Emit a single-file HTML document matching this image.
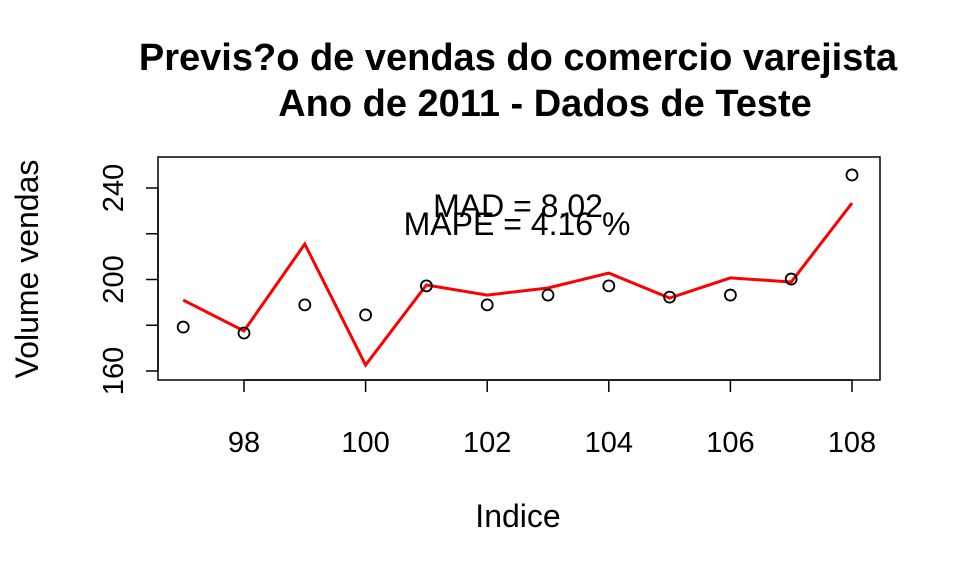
<!DOCTYPE html>
<html><head><meta charset="utf-8"><style>
body{margin:0;background:#fff}
svg{display:block;font-family:"Liberation Sans",Arial,sans-serif}
</style></head><body>
<svg id="c" width="960" height="576">
<text x="518" y="70" font-size="38" font-weight="bold" text-anchor="middle">Previs?o de vendas do comercio varejista</text>
<text x="545" y="116" font-size="38" font-weight="bold" text-anchor="middle">Ano de 2011 - Dados de Teste</text>
<rect x="158" y="157" width="722" height="223" fill="none" stroke="#000" stroke-width="1.5"/>
<text x="518" y="527" font-size="32" text-anchor="middle">Indice</text>
<text transform="translate(38,269) rotate(-90)" font-size="32" text-anchor="middle">Volume vendas</text>
<text x="518" y="217" font-size="32" text-anchor="middle">MAD = 8.02</text>
<text x="517" y="235" font-size="32" text-anchor="middle">MAPE = 4.16 %</text>
<g id="g"></g>
</svg>
<script>
const xs=[97,98,99,100,101,102,103,104,105,106,107,108];
const actual=[179.2,176.6,188.9,184.5,197.2,188.9,193.2,197.2,192.3,193.2,200.2,245.7];
const forecast=[191,177.5,215.5,162.6,197.6,193.2,196.3,202.8,191.9,200.7,198.9,233.4];
const xTicks=[98,100,102,104,106,108];
const yTicks=[160,200,240];
const yMinor=[180,220];
const X=v=>244+(v-98)*60.8;
const Y=v=>371-(v-160)*2.2875;
const NS="http://www.w3.org/2000/svg";
const g=document.getElementById('g');
function mk(t,a){const e=document.createElementNS(NS,t);for(const k in a)e.setAttribute(k,a[k]);g.appendChild(e);return e;}
let e=mk('line',{x1:X(98),x2:X(108),y1:380,y2:380,stroke:'#000','stroke-width':1.5});


xTicks.forEach(t=>{
 let l=mk('line',{x1:X(t),x2:X(t),y1:380,y2:392,stroke:'#000','stroke-width':1.5});
 
 
 let tx=mk('text',{x:X(t),y:452,'font-size':29,'text-anchor':'middle'});tx.textContent=t;
 
 
});
e=mk('line',{x1:158,x2:158,y1:Y(160),y2:Y(240),stroke:'#000','stroke-width':1.5});


yTicks.concat(yMinor).forEach(t=>{
 let l=mk('line',{x1:146,x2:158,y1:Y(t),y2:Y(t),stroke:'#000','stroke-width':1.5});
 
 
});
yTicks.forEach(t=>{
 let tx=mk('text',{transform:`translate(123,${Y(t)}) rotate(-90)`,'font-size':29,'text-anchor':'middle'});tx.textContent=t;
 
 
});
let p=mk('polyline',{points:xs.map((x,i)=>X(x)+','+Y(forecast[i])).join(' '),fill:'none',stroke:'#ff0000','stroke-width':3});


xs.forEach((x,i)=>{
 let c=mk('circle',{cx:X(x),cy:Y(actual[i]),r:5.5,fill:'none',stroke:'#000','stroke-width':1.8});
 
 
});
</script>
</body></html>
